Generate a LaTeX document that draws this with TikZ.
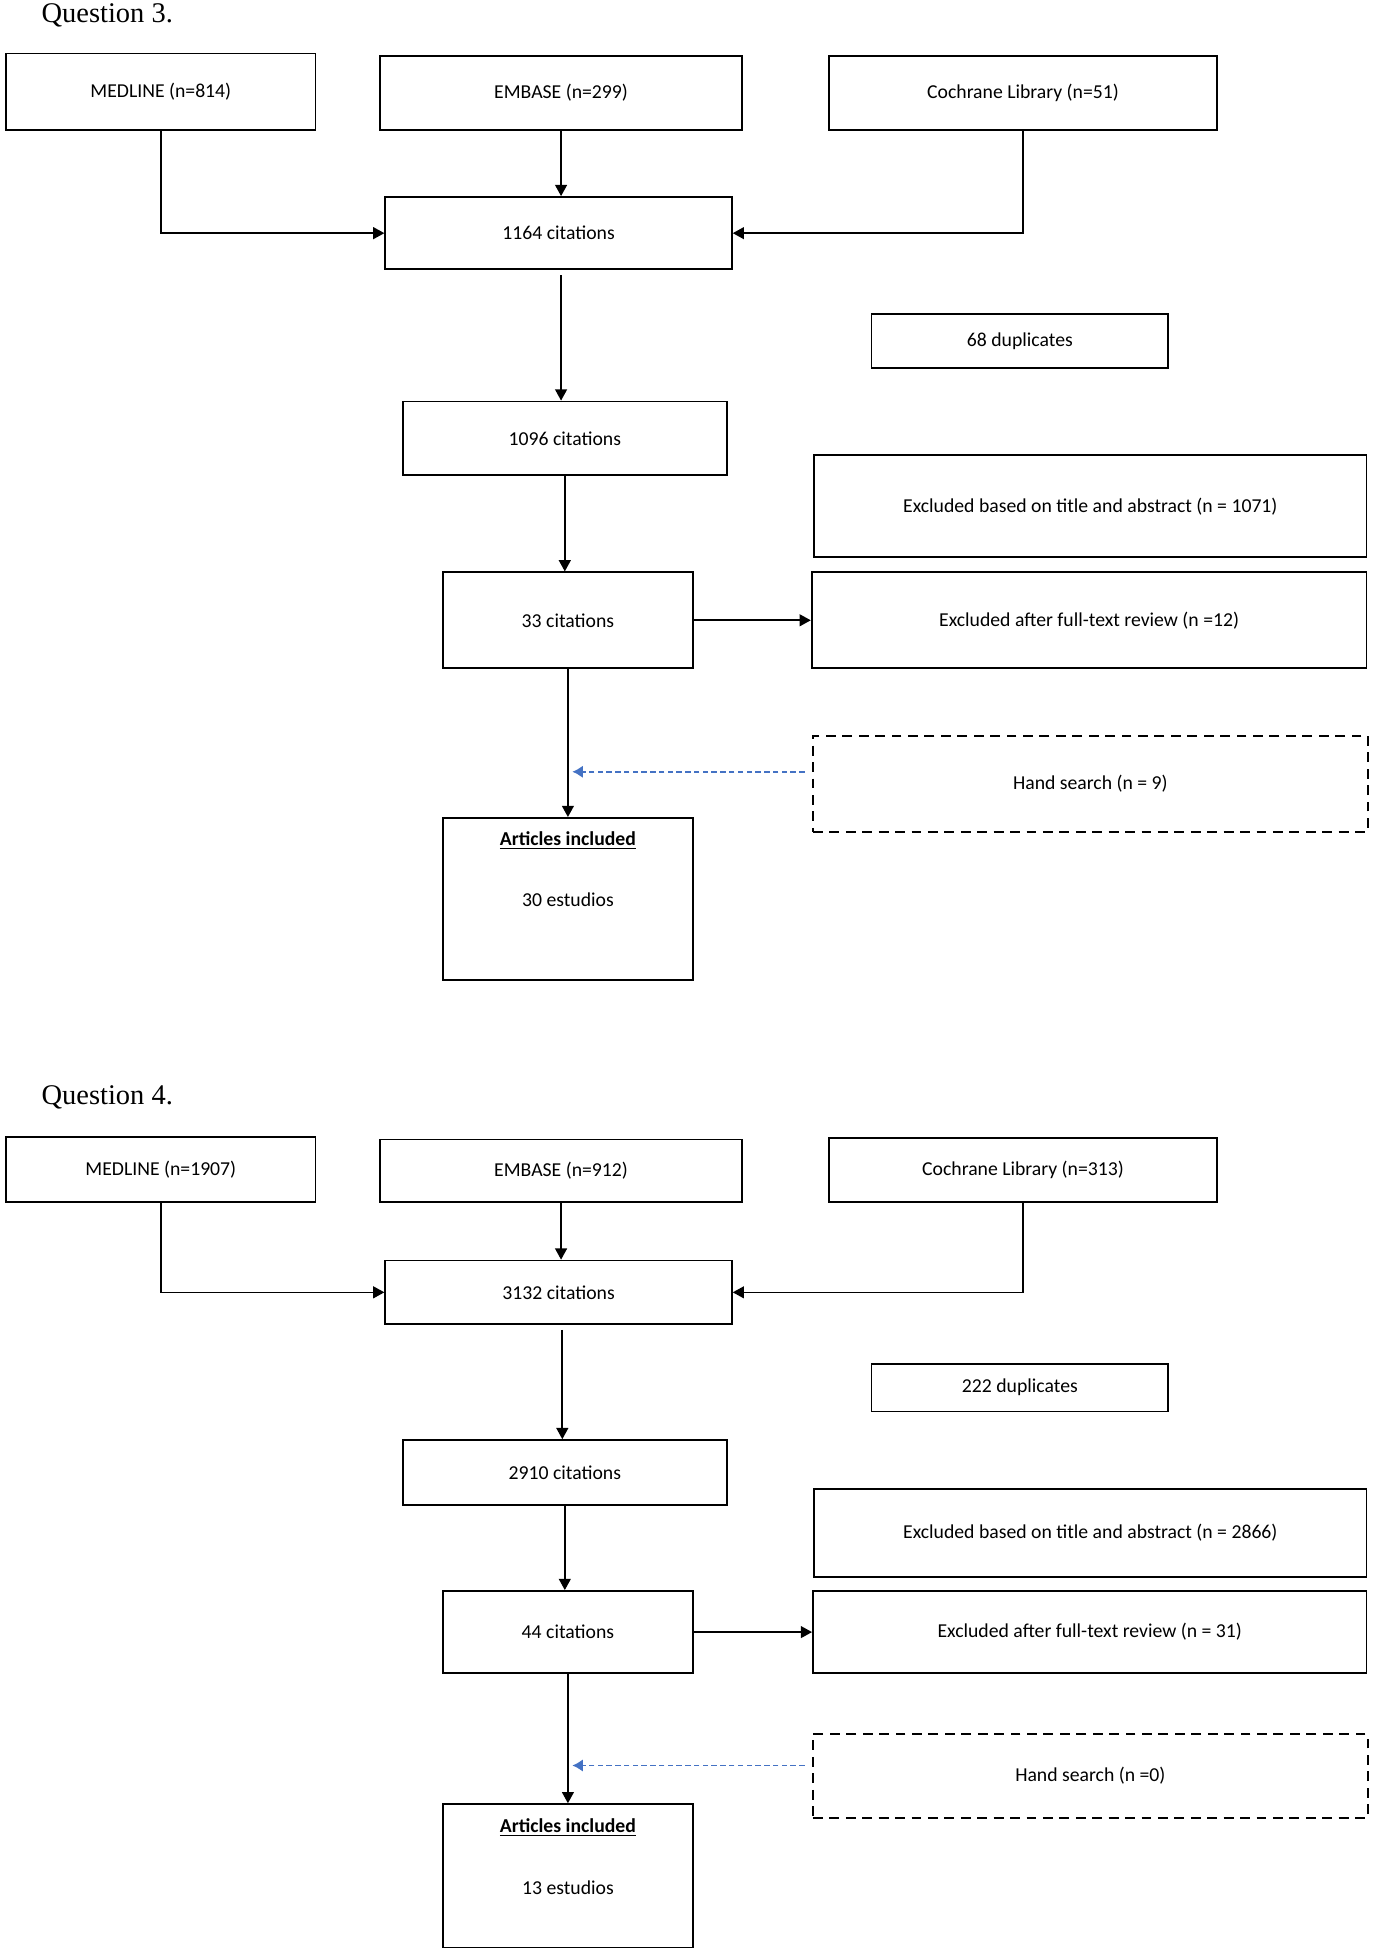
\documentclass[tikz,border=0pt]{standalone}
\usepackage{fontspec}
\setmainfont{Carlito}
\newfontfamily\qtitlefont{Liberation Serif}
\usetikzlibrary{arrows.meta,calc}
\definecolor{arrowblue}{RGB}{68,114,196}
\newcommand\flowbox[7][]{\node[box,#1,minimum width={(#4-#2)*0.02cm},minimum height={(#5-#3)*0.02cm}] (#6) at ({(#2+#4)/2},{(#3+#5)/2}) {#7};}
\begin{document}
\begin{tikzpicture}[x=0.02cm,y=-0.02cm,
  box/.style={draw,line width=0.8pt,inner sep=0pt,font=\fontsize{9}{11}\selectfont},
  dashed box/.style={dash pattern=on 4.5pt off 3pt},
  txt/.style={inner sep=0pt,font=\fontsize{9}{11}\selectfont},
  qtitle/.style={anchor=west,inner sep=0pt,font=\qtitlefont\fontsize{13}{15}\selectfont},
  arr/.style={line width=0.75pt,-{Triangle[length=0.18cm,width=0.19cm]}},
  bluearr/.style={line width=0.8pt,arrowblue,dash pattern=on 2.5pt off 1.5pt,-{Latex[length=0.17cm,width=0.2cm]}}]
\useasboundingbox (0,0) rectangle (1103,1568);
% ---------------- Question 3 ----------------
\node[qtitle] (q3) at (33,12) {Question 3.};
\flowbox{5}{43}{253}{104}{med3}{MEDLINE (n=814)}
\flowbox{305}{45}{595}{104}{emb3}{EMBASE (n=299)}
\flowbox{665}{45}{976}{104}{coc3}{Cochrane Library (n=51)}
\flowbox{309}{158}{587}{216}{c3}{1164 citations}
\flowbox{699}{252}{937}{295}{dup3}{68 duplicates}
\flowbox{323}{322}{583}{381}{d3}{1096 citations}
\flowbox{653}{365}{1096}{447}{xa3}{Excluded based on title and abstract (n = 1071)}
\flowbox{355}{459}{556}{536}{t3}{33 citations}
\flowbox{651}{459}{1096}{536}{xt3}{Excluded after full-text review (n =12)}
\flowbox[dashed box]{652}{590}{1097}{667}{hs3}{Hand search (n = 9)}
\flowbox{355}{656}{556}{786}{a3}{}
\node[txt] (a3t) at (455.5,674) {\underline{\textbf{Articles included}}};
\node[txt] (a3n) at (455.5,722) {30 estudios};
\draw[arr] (med3.south) |- (c3.west);
\draw[arr] (emb3.south) -- (emb3.south |- c3.north);
\draw[arr] (coc3.south) |- (c3.east);
\coordinate (k3) at ($(c3.south)+(2,4)$);
\draw[arr] (k3) -- (k3 |- d3.north);
\draw[arr] (d3.south) -- (d3.south |- t3.north);
\draw[arr] (t3.east) -- (xt3.west);
\draw[arr] (t3.south) -- (a3.north);
\coordinate (h3) at (459,619);
\draw[bluearr] ($(hs3.west |- h3)+(-6,0)$) -- (h3);
% ---------------- Question 4 ----------------
\node[qtitle] (q4) at (33,880) {Question 4.};
\flowbox{5}{912}{253}{964}{med4}{MEDLINE (n=1907)}
\flowbox{305}{914}{595}{964}{emb4}{EMBASE (n=912)}
\flowbox{665}{913}{976}{964}{coc4}{Cochrane Library (n=313)}
\flowbox{309}{1011}{587}{1062}{c4}{3132 citations}
\flowbox{699}{1094}{937}{1132}{dup4}{222 duplicates}
\flowbox{323}{1155}{583}{1207}{d4}{2910 citations}
\flowbox{653}{1194}{1096}{1265}{xa4}{Excluded based on title and abstract (n = 2866)}
\flowbox{355}{1276}{556}{1342}{t4}{44 citations}
\flowbox{652}{1276}{1096}{1342}{xt4}{Excluded after full-text review (n = 31)}
\flowbox[dashed box]{652}{1391}{1097}{1458}{hs4}{Hand search (n =0)}
\flowbox{355}{1447}{556}{1562}{a4}{}
\node[txt] (a4t) at (455.5,1466) {\underline{\textbf{Articles included}}};
\node[txt] (a4n) at (455.5,1514) {13 estudios};
\draw[arr] (med4.south) |- (c4.west);
\draw[arr] (emb4.south) -- (emb4.south |- c4.north);
\draw[arr] (coc4.south) |- (c4.east);
\coordinate (k4) at ($(c4.south)+(3,4)$);
\draw[arr] (k4) -- (k4 |- d4.north);
\draw[arr] (d4.south) -- (d4.south |- t4.north);
\draw[arr] (t4.east) -- (xt4.west);
\draw[arr] (t4.south) -- (a4.north);
\coordinate (h4) at (459,1416);
\draw[bluearr] ($(hs4.west |- h4)+(-6,0)$) -- (h4);
\end{tikzpicture}
\end{document}
